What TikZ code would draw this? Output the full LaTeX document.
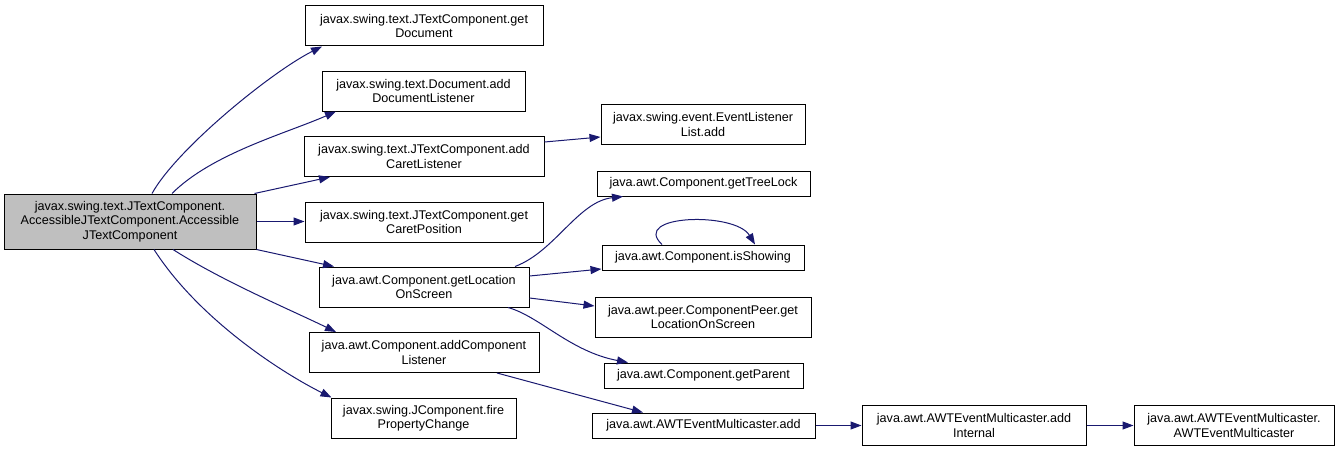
\documentclass[tikz,border=0pt]{standalone}
\usepackage{fontspec}
\setmainfont{Liberation Sans}
\usetikzlibrary{arrows.meta,calc}
\definecolor{edgeblue}{HTML}{191970}
\definecolor{mainfill}{HTML}{BFBFBF}
\begin{document}
\begin{tikzpicture}[x=1pt,y=-1pt,
  box/.style={draw=black, line width=1pt, fill=white, inner sep=0pt, align=center,
    font=\fontsize{12.6}{14.5}\selectfont},
  two/.style={minimum height=40},
  one/.style={minimum height=25},
  edge/.style={draw=edgeblue, line width=1pt, -{Triangle[length=11pt,width=8pt]}}]
\useasboundingbox (0,0) rectangle (1340,452);
% nodes
\node[box, fill=mainfill, minimum width=252, minimum height=55] (main) at (130,221.5)
  {javax.swing.text.JTextComponent.\\AccessibleJTextComponent.Accessible\\JTextComponent};
\node[box, two, minimum width=238] (gdoc) at (424,26) {javax.swing.text.JTextComponent.get\\Document};
\node[box, two, minimum width=203] (adl) at (423.5,91) {javax.swing.text.Document.add\\DocumentListener};
\node[box, two, minimum width=240] (acl) at (424,156.5) {javax.swing.text.JTextComponent.add\\CaretListener};
\node[box, two, minimum width=238] (gcp) at (424,222) {javax.swing.text.JTextComponent.get\\CaretPosition};
\node[box, two, minimum width=210] (gloc) at (424,287) {java.awt.Component.getLocation\\OnScreen};
\node[box, two, minimum width=230] (acomp) at (424,352.5) {java.awt.Component.addComponent\\Listener};
\node[box, two, minimum width=185] (fpc) at (423.5,418) {javax.swing.JComponent.fire\\PropertyChange};
\node[box, two, minimum width=204] (ell) at (703,124.5) {javax.swing.event.EventListener\\List.add};
\node[box, one, minimum width=213] (gtl) at (703.5,183.5) {java.awt.Component.getTreeLock};
\node[box, one, minimum width=202] (isshow) at (703,257.5) {java.awt.Component.isShowing};
\node[box, two, minimum width=216] (cpeer) at (703,317) {java.awt.peer.ComponentPeer.get\\LocationOnScreen};
\node[box, one, minimum width=199] (gpar) at (703.5,375.5) {java.awt.Component.getParent};
\node[box, one, minimum width=223] (awtadd) at (703.5,425.5) {java.awt.AWTEventMulticaster.add};
\node[box, two, minimum width=224] (addint) at (974,425.5) {java.awt.AWTEventMulticaster.add\\Internal};
\node[box, two, minimum width=200] (awtem) at (1234,425.5) {java.awt.AWTEventMulticaster.\\AWTEventMulticaster};
% edges
\draw[edge] ($(main.north)+(22,0)$) .. controls +(25,-45) and +(-50,25) .. ($(gdoc.south)+(-102,0)$);
\draw[edge] ($(main.north)+(42,0)$) .. controls +(40,-40) and +(-50,22) .. ($(adl.south)+(-87.5,0)$);
\draw[edge] ($(main.north east)+(-2,0)$) -- ($(acl.south)+(-94,0)$);
\draw[edge] (main.east) -- (main.east -| gcp.west);
\draw[edge] (main.south east) -- ($(gloc.north)+(-90,0)$);
\draw[edge] ($(main.south)+(43,0)$) .. controls +(50,32) and +(-45,-22) .. ($(acomp.north)+(-88,0)$);
\draw[edge] ($(main.south)+(24,0)$) .. controls +(45,70) and +(-50,-25) .. ($(fpc.north west)+(1,0)$);
\draw[edge] ($(acl.east)+(0,-14.5)$) -- ($(ell.west)+(0,12.5)$);
\draw[edge] ($(gloc.north)+(91,0)$) .. controls +(40,-15) and +(-45,5) .. ($(gtl.south)+(-80.5,0)$);
\draw[edge] ($(gloc.east)+(0,-11)$) -- ($(isshow.west)+(0,11.5)$);
\draw[edge] ($(gloc.east)+(0,11)$) -- ($(cpeer.west)+(0,-11)$);
\draw[edge] ($(gloc.south)+(84,0)$) .. controls +(32,9) and +(-58,-11) .. ($(gpar.north)+(-75.5,0)$);
\draw[edge] ($(acomp.south)+(73,0)$) -- ($(awtadd.north)+(-60.5,0)$);
\draw[edge] (awtadd.east) -- (addint.west);
\draw[edge] (addint.east) -- (awtem.west);
\draw[edge] ($(isshow.north)+(-41,0)$) .. controls +(-32,-30) and +(-20,-33) .. ($(isshow.north)+(52,0)$);
\end{tikzpicture}
\end{document}
